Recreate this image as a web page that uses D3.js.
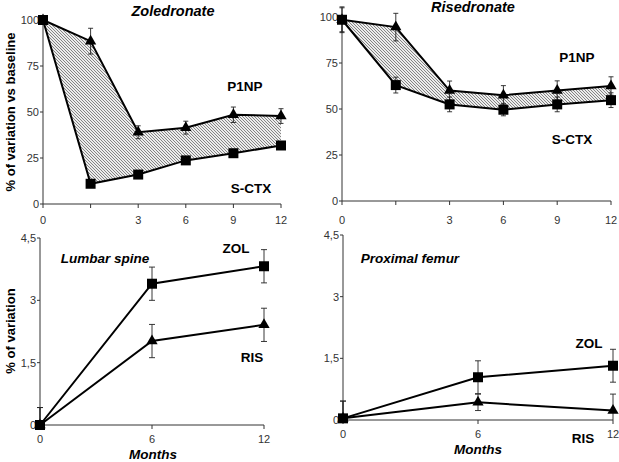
<!DOCTYPE html>
<html>
<head>
<meta charset="utf-8">
<script src="https://cdn.jsdelivr.net/npm/d3@7"></script>
<style>
  body { margin: 0; background: #fff; }
  svg { display: block; font-family: 'Liberation Sans', Arial, sans-serif; }
</style>
</head>
<body>
<svg id="chart" width="619" height="462"></svg>
<script>
// ---- data ----
const markerMonths = ['0', '', '3', '6', '9', '12']; // top panels, evenly spaced visits

const zolP1np = [100, 88.5, 39, 41.5, 48.5, 47.8];
const zolP1npErr = [0, 7, 3.5, 3.5, 4.2, 4];
const zolCtx = [100, 11, 16, 23.7, 27.6, 31.8];
const zolCtxErr = [0, 1.2, 1.2, 1.2, 1.2, 1.2];

const risP1np = [98.5, 94.5, 60, 57.5, 60, 62.5];
const risP1npErr = [7, 7.5, 5.2, 5.2, 5.3, 5];
const risCtx = [98.5, 63, 52.5, 49.6, 52.5, 54.8];
const risCtxErr = [6.5, 4.3, 4, 3.3, 4, 4];

const bmdMonths = [0, 6, 12];
const spineZol = [0, 3.4, 3.82];
const spineZolErr = [0.42, 0.4, 0.4];
const spineRis = [0, 2.02, 2.41];
const spineRisErr = [0.42, 0.4, 0.4];

const femurZol = [0.04, 1.04, 1.32];
const femurZolErr = [0.42, 0.4, 0.4];
const femurRis = [0.04, 0.43, 0.23];
const femurRisErr = [0.42, 0.2, 0.4];

const markerTicks = [0, 25, 50, 75, 100];
const bmdTicks = [0, 1.5, 3, 4.5];

const svg = d3.select('#chart');

// hatch for the area between the two markers
const defs = svg.append('defs');
const pat = defs.append('pattern')
  .attr('id', 'hatch')
  .attr('patternUnits', 'userSpaceOnUse')
  .attr('width', 3)
  .attr('height', 3);
pat.append('rect').attr('width', 3).attr('height', 3).attr('fill', '#ececec');
pat.append('path')
  .attr('d', 'M-1,-1 L4,4 M-1,2 L1,4 M2,-1 L4,1')
  .attr('stroke', '#6a6a6a')
  .attr('stroke-width', 0.8);

const tri = d3.symbol().type(d3.symbolTriangle).size(55);
const sq = d3.symbol().type(d3.symbolSquare).size(100);

function drawSeries(g, x, y, xs, vals, errs, symbol, capW) {
  const pts = vals.map((v, i) => ({ x: x(xs[i]), v, e: errs[i] }));
  // error bars
  const eb = g.append('g').attr('stroke', '#222').attr('stroke-width', 0.9);
  pts.forEach((p) => {
    if (!p.e) return;
    const y1 = y(p.v + p.e);
    const y0 = Math.min(y(p.v - p.e), y.range()[0]);
    eb.append('line').attr('x1', p.x).attr('x2', p.x).attr('y1', y1).attr('y2', y0);
    eb.append('line').attr('x1', p.x - capW).attr('x2', p.x + capW).attr('y1', y1).attr('y2', y1);
    if (y(p.v - p.e) < y.range()[0]) {
      eb.append('line').attr('x1', p.x - capW).attr('x2', p.x + capW).attr('y1', y0).attr('y2', y0);
    }
  });
  g.append('path')
    .datum(pts)
    .attr('fill', 'none')
    .attr('stroke', '#000')
    .attr('stroke-width', 2)
    .attr('d', d3.line().x((d) => d.x).y((d) => y(d.v)));
  g.selectAll(null)
    .data(pts)
    .enter()
    .append('path')
    .attr('d', symbol)
    .attr('fill', '#000')
    .attr('transform', (d) => `translate(${d.x},${y(d.v)})`);
}

function axes(g, x, y, xTicks, xFmt, yTicks, yFmt, xLabelY) {
  const [x0, x1] = x.range();
  const [yb, yt] = y.range();
  g.append('line').attr('x1', x0).attr('x2', x0).attr('y1', yb).attr('y2', yt)
    .attr('stroke', '#333').attr('stroke-width', 1);
  g.append('line').attr('x1', x0).attr('x2', x1).attr('y1', yb).attr('y2', yb)
    .attr('stroke', '#333').attr('stroke-width', 1);
  yTicks.forEach((t) => {
    g.append('line').attr('x1', x0 - 3).attr('x2', x0).attr('y1', y(t)).attr('y2', y(t))
      .attr('stroke', '#333');
    g.append('text').text(yFmt(t))
      .attr('x', x0 - 4).attr('y', y(t)).attr('dy', '0.35em')
      .attr('text-anchor', 'end').attr('font-size', 11).attr('fill', '#333');
  });
  xTicks.forEach((t, i) => {
    g.append('line').attr('x1', x(t)).attr('x2', x(t)).attr('y1', yb).attr('y2', yb + 4)
      .attr('stroke', '#333');
    g.append('text').text(xFmt(t, i))
      .attr('x', x(t)).attr('y', xLabelY).attr('dy', '0.35em')
      .attr('text-anchor', 'middle').attr('font-size', 11).attr('fill', '#333');
  });
}

function label(text, x, y, italic, size = 13.5) {
  svg.append('text').text(text)
    .attr('x', x).attr('y', y).attr('dy', '0.35em')
    .attr('text-anchor', 'middle')
    .attr('font-size', size)
    .attr('font-weight', 'bold')
    .attr('font-style', italic ? 'italic' : 'normal');
}

// ---- marker panels ----
function markerPanel(xr, yr, p1np, p1npErr, ctx, ctxErr) {
  const g = svg.append('g');
  const idx = d3.range(markerMonths.length);
  const x = d3.scalePoint().domain(idx).range(xr);
  const y = d3.scaleLinear().domain([0, 100]).range(yr);
  g.append('path')
    .datum(idx)
    .attr('fill', 'url(#hatch)')
    .attr('d', d3.area().x((i) => x(i)).y0((i) => y(ctx[i])).y1((i) => y(p1np[i])));
  axes(g, x, y, idx, (t, i) => markerMonths[i], markerTicks, d3.format('d'), 220);
  drawSeries(g, x, y, idx, p1np, p1npErr, tri, 2.5);
  drawSeries(g, x, y, idx, ctx, ctxErr, sq, 2.5);
}

markerPanel([43, 281], [204, 20], zolP1np, zolP1npErr, zolCtx, zolCtxErr);
markerPanel([342, 611], [201, 17], risP1np, risP1npErr, risCtx, risCtxErr);

label('Zoledronate', 173, 11, true, 14.5);
label('P1NP', 245, 86, false);
label('S-CTX', 251, 188, false);
label('Risedronate', 473, 7, true, 14.5);
label('P1NP', 577, 57, false);
label('S-CTX', 572, 139, false);

svg.append('text').text('% of variation vs baseline')
  .attr('transform', 'translate(10,112) rotate(-90)')
  .attr('dy', '0.35em')
  .attr('text-anchor', 'middle').attr('font-size', 13).attr('font-weight', 'bold');

// ---- BMD panels ----
const commaFmt = (t) => String(t).replace('.', ',');
function bmdPanel(xr, yr, zol, zolErr, ris, risErr, xLabelY) {
  const g = svg.append('g');
  const x = d3.scaleLinear().domain([0, 12]).range(xr);
  const y = d3.scaleLinear().domain([0, 4.5]).range(yr);
  axes(g, x, y, bmdMonths, (t) => String(t), bmdTicks, commaFmt, xLabelY);
  drawSeries(g, x, y, bmdMonths, ris, risErr, tri, 3);
  drawSeries(g, x, y, bmdMonths, zol, zolErr, sq, 3);
}

bmdPanel([40, 264], [425, 238], spineZol, spineZolErr, spineRis, spineRisErr, 439);
bmdPanel([343, 613], [420, 235], femurZol, femurZolErr, femurRis, femurRisErr, 434);

label('Lumbar spine', 105, 258, true);
label('ZOL', 236, 248, false);
label('RIS', 252, 357, false);
label('Months', 153, 454, true);

label('Proximal femur', 410, 258, true);
label('ZOL', 589, 343, false);
label('RIS', 583, 438, false);
label('Months', 478, 449, true);

svg.append('text').text('% of variation')
  .attr('transform', 'translate(10,331) rotate(-90)')
  .attr('dy', '0.35em')
  .attr('text-anchor', 'middle').attr('font-size', 13).attr('font-weight', 'bold');
</script>
</body>
</html>
